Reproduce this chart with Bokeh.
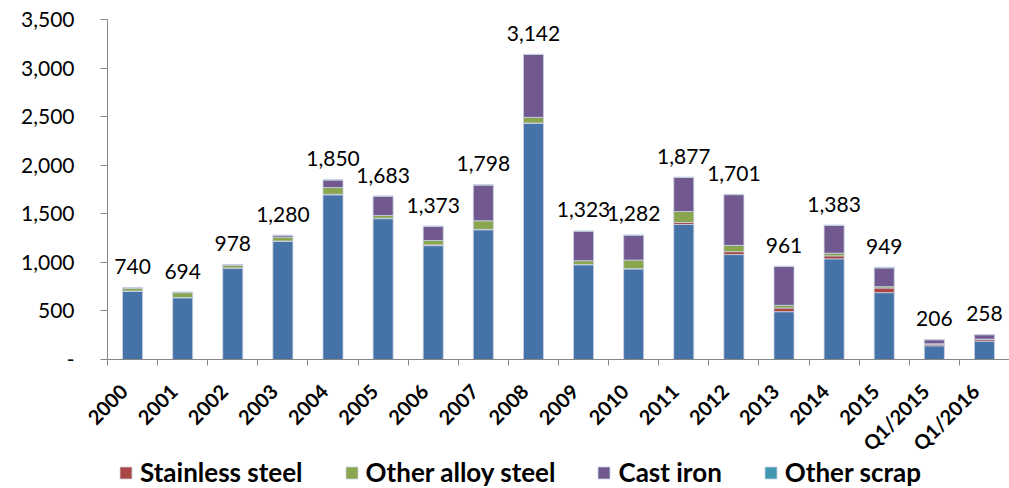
import math
from bokeh.plotting import figure
from bokeh.models import Range1d, FixedTicker, Legend, LegendItem, ColumnDataSource
from bokeh.embed import file_html
from bokeh.resources import INLINE
from bokeh.core.properties import value

categories = ["2000", "2001", "2002", "2003", "2004", "2005", "2006", "2007", "2008",
              "2009", "2010", "2011", "2012", "2013", "2014", "2015", "Q1/2015", "Q1/2016"]
carbon_steel = [700, 635, 940, 1215, 1695, 1450, 1172, 1335, 2430, 975, 932, 1390, 1080, 492, 1036, 688, 141, 189]
stainless_steel = [5, 3, 3, 5, 5, 5, 8, 5, 5, 4, 4, 20, 30, 38, 31, 48, 17, 17]
other_alloy_steel = [30, 50, 28, 40, 70, 28, 45, 88, 58, 38, 88, 114, 65, 28, 28, 14, 4, 4]
cast_iron = [3, 4, 5, 18, 78, 198, 146, 368, 647, 304, 256, 351, 522, 399, 286, 193, 41, 45]
other_scrap = [2, 2, 2, 2, 2, 2, 2, 2, 2, 2, 2, 2, 4, 4, 2, 6, 3, 3]
totals = [740, 694, 978, 1280, 1850, 1683, 1373, 1798, 3142, 1323, 1282, 1877, 1701, 961, 1383, 949, 206, 258]
y_ticks = [0, 500, 1000, 1500, 2000, 2500, 3000, 3500]

series = ["carbon", "stainless", "alloy", "cast", "other"]
legend_names = [None, "Stainless steel", "Other alloy steel", "Cast iron", "Other scrap"]
colors = ["#4572A7", "#AA4643", "#89A54E", "#71588F", "#4198AF"]

n = len(categories)
x_pos = [i + 0.5 for i in range(n)]
src = ColumnDataSource(dict(
    x=x_pos, carbon=carbon_steel, stainless=stainless_steel, alloy=other_alloy_steel,
    cast=cast_iron, other=other_scrap, total=totals,
    label=[f"{t:,}" for t in totals],
))

# Layout: the frame covers the whole canvas; axes are pinned at zero so that
# tick labels and the legend are drawn inside it.
left_px, plot_px = 107, 902
top_px, value_px, bottom_px = 19, 340, 129
unit_px = plot_px / n
x_start = -left_px / unit_px
y_max = y_ticks[-1]
y_unit_px = value_px / y_max
y_top = y_max + top_px / y_unit_px
y_bottom = -bottom_px / y_unit_px

p = figure(frame_width=left_px + plot_px, frame_height=top_px + value_px + bottom_px,
           output_backend="svg", toolbar_location=None,
           x_range=Range1d(x_start, n), y_range=Range1d(y_bottom, y_top),
           min_border_left=0, min_border_right=0, min_border_top=0, min_border_bottom=0)
p.outline_line_color = None
p.xgrid.visible = False
p.ygrid.visible = False
p.background_fill_color = "white"

renderers = p.vbar_stack(series, x="x", width=0.4, color=colors, source=src,
                         line_color="#c9d2e3", line_width=0.8)

p.text(x="x", y="total", text="label", source=src, text_align="center",
       text_baseline="alphabetic", y_offset=-21,
       text_font=value("Lato"), text_font_size="21px", text_color="#000000")

# x axis drawn at the zero line
label_shift = 0.18
label_pos = [x - label_shift for x in x_pos]
p.xaxis.fixed_location = 0
p.xaxis.bounds = (0, n)
p.xaxis.ticker = FixedTicker(ticks=label_pos, minor_ticks=list(range(n + 1)))
p.xaxis.major_label_overrides = {x: c for x, c in zip(label_pos, categories)}
p.xaxis.major_label_orientation = math.pi / 4
p.xaxis.major_label_text_font = "Lato"
p.xaxis.major_label_text_font_style = "bold"
p.xaxis.major_label_text_font_size = "20px"
p.xaxis.major_label_text_color = "#000000"
p.xaxis.major_label_standoff = 22
p.xaxis.major_tick_out = 0
p.xaxis.major_tick_in = 0
p.xaxis.minor_tick_out = 6
p.xaxis.minor_tick_in = 0
p.xaxis.minor_tick_line_color = "#868686"
p.xaxis.axis_line_color = "#868686"

# y axis drawn at x = 0
p.yaxis.fixed_location = 0
p.yaxis.ticker = FixedTicker(ticks=y_ticks)
p.yaxis.bounds = (0, y_max)
p.yaxis.major_label_overrides = {t: (f"{t:,}" if t else "-") for t in y_ticks}
p.yaxis.major_label_text_font = "Lato"
p.yaxis.major_label_text_font_size = "21px"
p.yaxis.major_label_text_color = "#000000"
p.yaxis.major_label_standoff = 26
p.yaxis.major_tick_out = 7
p.yaxis.major_tick_in = 0
p.yaxis.minor_tick_out = 0
p.yaxis.minor_tick_in = 0
p.yaxis.major_tick_line_color = "#868686"
p.yaxis.axis_line_color = "#868686"

items = [LegendItem(label=nm, renderers=[r]) for nm, r in zip(legend_names, renderers) if nm]
legend = Legend(items=items, orientation="horizontal", location=(left_px + 11, 0),
                label_text_font="Lato", label_text_font_style="bold",
                label_text_font_size="26px", label_text_color="#000000",
                glyph_width=15, glyph_height=15, label_standoff=7, spacing=41,
                padding=0, margin=0, border_line_color=None, background_fill_alpha=0)
p.add_layout(legend, "center")

open("out.html", "w").write(file_html(p, INLINE))
